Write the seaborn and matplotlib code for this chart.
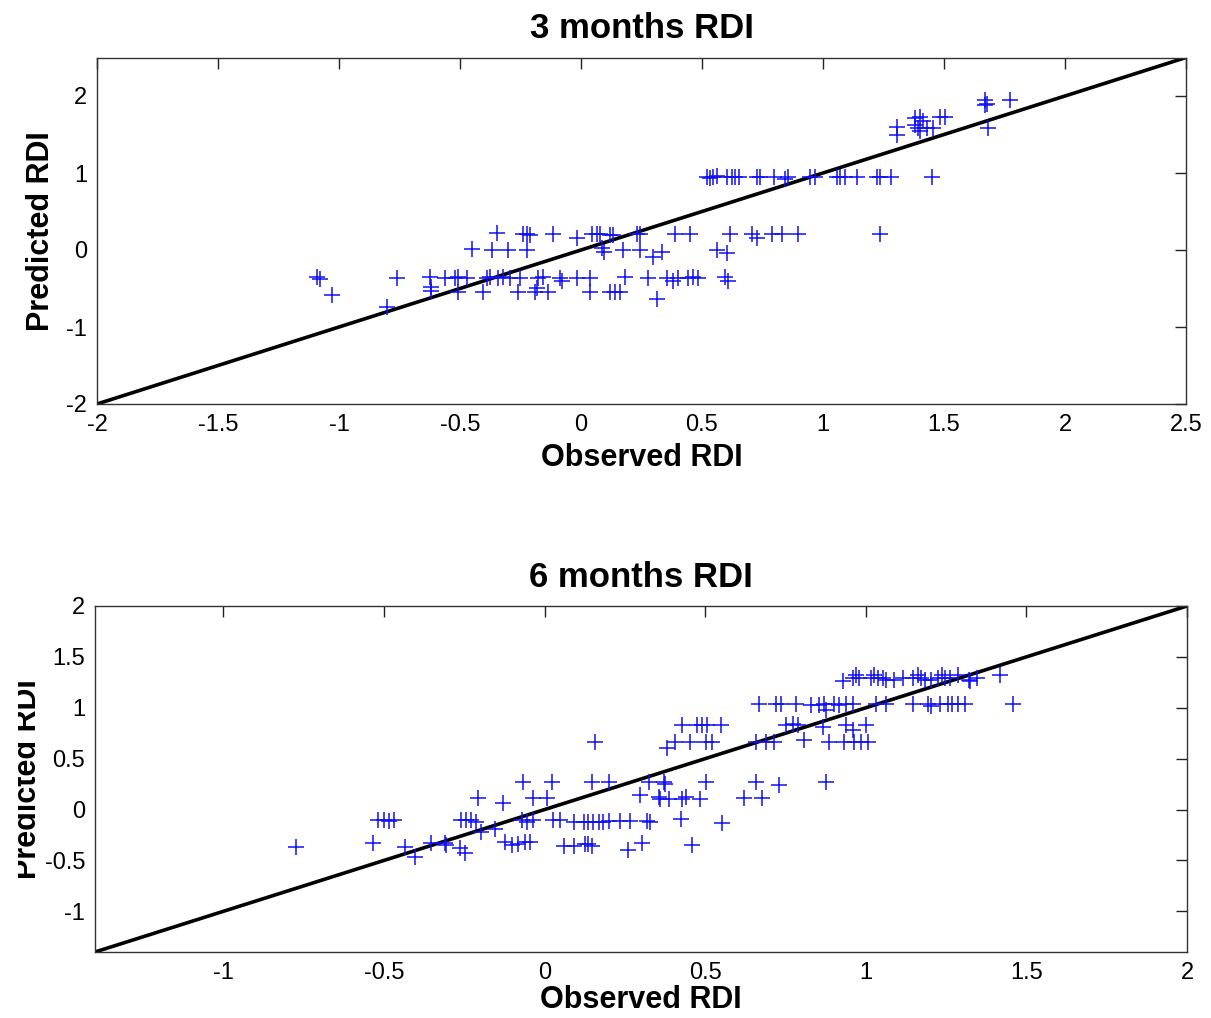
import matplotlib
matplotlib.use("Agg")
import matplotlib.pyplot as plt
import seaborn as sns
import numpy as np
import pandas as pd
from matplotlib.transforms import Bbox

# ---------------- data: 3 months RDI ----------------
obs3 = [0.519, 0.533, 0.545, 0.561, 0.602, 0.623, 0.636, 0.653, 0.726, 0.740, 0.798, 0.843,
        0.855, 0.946, 0.967, 1.057, 1.070, 1.091, 1.139, 1.223, 1.236, 1.281, 1.449,
        -0.348, -0.238, -0.224, -0.211, -0.114, -0.018, 0.044, 0.065, 0.079, 0.120, 0.134,
        0.230, 0.244, 0.388, 0.450, 0.616, 0.705, 0.726, 0.788, 0.829, 0.898, 1.236,
        -0.452, -0.369, -0.300, -0.224, 0.085, 0.095, 0.175, 0.244, 0.299, 0.333, 0.561, 0.602,
        -1.092, -1.079, -0.762, -0.625, -0.620, -0.562, -0.521, -0.507, -0.472, -0.390, -0.376,
        -0.341, -0.321, -0.293, -0.252, -0.176, -0.155, -0.087, -0.080, -0.018, 0.037, 0.182,
        0.278, 0.354, 0.381, 0.402, 0.443, 0.464, 0.485, 0.595, 0.609,
        -0.620, -0.507, -0.404, -0.259, -0.190, -0.183, -0.135, 0.037, 0.120, 0.141, 0.161, 0.313,
        -1.030, -0.803,
        1.306, 1.306, 1.380, 1.401, 1.415, 1.380, 1.394, 1.401, 1.428, 1.456, 1.483, 1.504,
        1.669, 1.676, 1.669, 1.773, 1.683]
pred3 = [0.95, 0.93, 0.95, 0.96, 0.95, 0.95, 0.95, 0.95, 0.95, 0.95, 0.95, 0.92,
         0.95, 0.95, 0.95, 0.95, 0.95, 0.95, 0.95, 0.95, 0.95, 0.95, 0.95,
         0.22, 0.21, 0.21, 0.20, 0.21, 0.16, 0.21, 0.21, 0.21, 0.20, 0.19,
         0.21, 0.21, 0.21, 0.21, 0.21, 0.21, 0.15, 0.21, 0.21, 0.21, 0.21,
         0.01, 0.00, 0.00, 0.00, 0.03, -0.03, 0.00, 0.00, -0.09, -0.03, 0.00, -0.04,
         -0.35, -0.38, -0.37, -0.35, -0.48, -0.37, -0.37, -0.35, -0.37, -0.37, -0.35,
         -0.37, -0.35, -0.37, -0.37, -0.37, -0.35, -0.37, -0.40, -0.37, -0.37, -0.35,
         -0.37, -0.37, -0.40, -0.37, -0.37, -0.35, -0.37, -0.35, -0.40,
         -0.53, -0.55, -0.55, -0.55, -0.55, -0.49, -0.55, -0.55, -0.55, -0.55, -0.55, -0.63,
         -0.58, -0.74,
         1.60, 1.50, 1.71, 1.73, 1.67, 1.62, 1.58, 1.54, 1.58, 1.58, 1.73, 1.73,
         1.95, 1.90, 1.88, 1.95, 1.58]

# ---------------- data: 6 months RDI ----------------
obs6 = [-0.775, -0.535, -0.520, -0.500, -0.485, -0.470, -0.436, -0.405, -0.353, -0.311, -0.306,
        -0.265, -0.249, -0.259, -0.244, -0.228, -0.213, -0.197, -0.155, -0.207, -0.129,
        -0.067, 0.022, -0.035, 0.006, -0.124, -0.103, -0.082, -0.061, -0.046, -0.072, -0.056,
        -0.035,
        0.027, 0.048, 0.090, 0.121, 0.136, 0.152, 0.168, 0.183, 0.199, 0.235, 0.267, 0.319,
        0.329, 0.423, 0.553,
        0.060, 0.090, 0.126, 0.136, 0.147, 0.261, 0.303, 0.459,
        0.147, 0.199, 0.324, 0.371, 0.376, 0.501, 0.657, 0.730, 0.876,
        0.298, 0.355, 0.360, 0.386, 0.428, 0.439, 0.485, 0.621, 0.678,
        0.157, 0.407, 0.454, 0.501, 0.522, 0.381, 0.657, 0.689, 0.715, 0.808, 0.886, 0.933,
        0.964, 0.985, 1.006,
        0.428, 0.475, 0.491, 0.506, 0.548, 0.751, 0.772, 0.788, 0.866, 0.938, 0.959, 1.001,
        0.668, 0.720, 0.735, 0.782, 0.829, 0.855, 0.871, 0.876, 0.902, 0.918, 0.938, 0.959,
        1.032, 1.063, 1.147, 1.194, 1.204, 1.230, 1.256, 1.267, 1.288, 1.308, 1.459,
        0.928, 0.959, 0.969, 0.980, 1.016, 1.027, 1.037, 1.053, 1.063, 1.089, 1.116, 1.147,
        1.163, 1.173, 1.183, 1.204, 1.225, 1.236, 1.246, 1.262, 1.288, 1.320, 1.325, 1.345,
        1.418]
pred6 = [-0.37, -0.33, -0.105, -0.105, -0.11, -0.105, -0.37, -0.47, -0.33, -0.33, -0.35,
         -0.38, -0.43, -0.105, -0.105, -0.105, -0.12, -0.22, -0.19, 0.11, 0.06,
         0.27, 0.27, 0.11, 0.11, -0.32, -0.35, -0.34, -0.32, -0.32, -0.105, -0.12,
         -0.105,
         -0.105, -0.105, -0.12, -0.12, -0.12, -0.12, -0.12, -0.12, -0.11, -0.11, -0.11, -0.11,
         -0.12, -0.09, -0.13,
         -0.36, -0.36, -0.34, -0.34, -0.36, -0.40, -0.33, -0.35,
         0.27, 0.27, 0.27, 0.27, 0.25, 0.27, 0.27, 0.24, 0.27,
         0.14, 0.12, 0.10, 0.10, 0.10, 0.12, 0.10, 0.11, 0.11,
         0.665, 0.665, 0.665, 0.665, 0.665, 0.60, 0.665, 0.665, 0.665, 0.68, 0.665, 0.665,
         0.665, 0.665, 0.665,
         0.83, 0.83, 0.83, 0.83, 0.83, 0.83, 0.84, 0.83, 0.81, 0.83, 0.78, 0.83,
         1.04, 1.04, 1.04, 1.04, 1.03, 1.03, 1.04, 0.98, 1.04, 1.03, 1.04, 1.04,
         1.04, 1.04, 1.04, 1.04, 1.02, 1.04, 1.04, 1.04, 1.04, 1.04, 1.04,
         1.26, 1.29, 1.32, 1.29, 1.29, 1.32, 1.29, 1.29, 1.27, 1.27, 1.29, 1.29,
         1.32, 1.29, 1.27, 1.27, 1.29, 1.32, 1.29, 1.29, 1.32, 1.27, 1.26, 1.29,
         1.32]

lim3 = [-2.0, 2.5]
xticks3 = [-2, -1.5, -1, -0.5, 0, 0.5, 1, 1.5, 2, 2.5]
yticks3 = [-2, -1, 0, 1, 2]
lim6 = [-1.4, 2.0]
xticks6 = [-1, -0.5, 0, 0.5, 1, 1.5, 2]
yticks6 = [-1, -0.5, 0, 0.5, 1, 1.5, 2]

df3 = pd.DataFrame({"Observed RDI": obs3, "Predicted RDI": pred3})
df6 = pd.DataFrame({"Observed RDI": obs6, "Predicted RDI": pred6})

sns.set_style("white")
plt.rcParams["font.family"] = ["Liberation Sans", "DejaVu Sans"]
plt.rcParams["text.color"] = "black"
plt.rcParams["axes.labelcolor"] = "black"

W, H = 1211, 1018
fig = plt.figure(figsize=(W / 100, H / 100), dpi=100)
ax1 = fig.add_axes([97 / W, 1 - 404 / H, (1186 - 97) / W, (404 - 57.5) / H])
ax2 = fig.add_axes([95 / W, 1 - 952 / H, (1187 - 95) / W, (952 - 606) / H])


def fmt(v):
    return f"{v:g}"


for ax, df, lim, xt, yt, title, lp in [
    (ax1, df3, lim3, xticks3, yticks3, "3 months RDI", 5),
    (ax2, df6, lim6, xticks6, yticks6, "6 months RDI", 1),
]:
    sns.scatterplot(data=df, x="Observed RDI", y="Predicted RDI", ax=ax, marker="+",
                    color="#1010f0", s=120, linewidth=1.1, zorder=3, legend=False)
    sns.lineplot(x=lim, y=lim, ax=ax, color="black", linewidth=2.6, zorder=2)
    ax.set_xlim(lim)
    ax.set_ylim(lim)
    ax.set_xticks(xt)
    ax.set_yticks(yt)
    ax.set_xticklabels([fmt(v) for v in xt])
    ax.set_yticklabels([fmt(v) for v in yt])
    ax.tick_params(direction="in", length=8, width=1, colors="#222222",
                   top=True, right=True, labelsize=17, pad=7,
                   labelcolor="black")
    for sp in ax.spines.values():
        sp.set_color("#333333")
        sp.set_linewidth(1.0)
    ax.set_title(title, fontsize=25, fontweight="bold", pad=14, color="black")
    ax.set_xlabel("Observed RDI", fontsize=22, fontweight="bold", labelpad=lp)
    ax.set_ylabel("Predicted RDI", fontsize=22, fontweight="bold")

ax1.yaxis.set_label_coords((56 - 97) / (1186 - 97), 0.5)
ax2.yaxis.set_label_coords((43 - 95) / (1187 - 95), 0.5)
# the lower y label is cut off at its left side in the reference
lab = ax2.yaxis.label
lab.set_clip_on(True)
lab.set_clip_box(Bbox.from_extents(18, 0, W, H))

fig.savefig("out.png", dpi=100, facecolor="white")
